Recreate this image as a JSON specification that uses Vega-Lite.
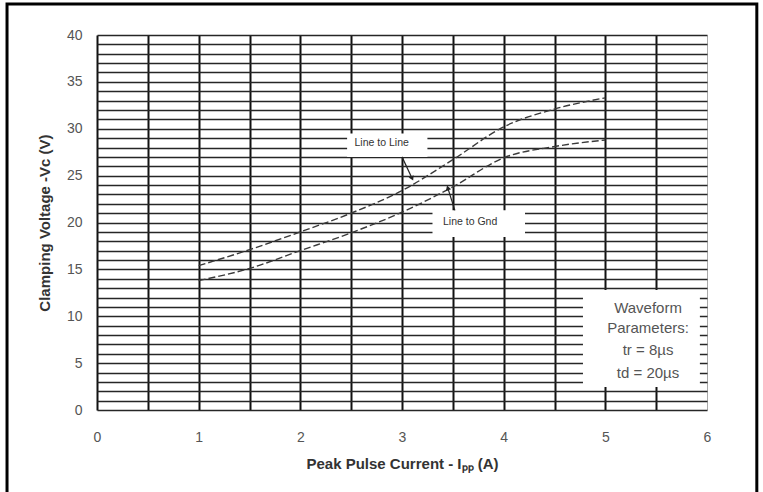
{
  "$schema": "https://vega.github.io/schema/vega-lite/v6.json",
  "width": 610,
  "height": 375,
  "autosize": {"type": "none"},
  "padding": {"left": 97, "top": 35, "right": 56, "bottom": 82},
  "background": "white",
  "config": {"view": {"stroke": null}, "font": "Liberation Sans"},
  "datasets": {
    "frame": [{"x": -0.885, "x2": 6.49, "y": -9, "y2": 43.3}],
    "curves": [
      {"series": "Line to Line", "x": 1, "y": 15.4},
      {"series": "Line to Line", "x": 1.5, "y": 17.1},
      {"series": "Line to Line", "x": 2, "y": 19.0},
      {"series": "Line to Line", "x": 2.5, "y": 21.0},
      {"series": "Line to Line", "x": 3, "y": 23.4},
      {"series": "Line to Line", "x": 3.5, "y": 26.7},
      {"series": "Line to Line", "x": 4, "y": 30.2},
      {"series": "Line to Line", "x": 4.5, "y": 32.1},
      {"series": "Line to Line", "x": 5, "y": 33.3},
      {"series": "Line to Gnd", "x": 1, "y": 13.8},
      {"series": "Line to Gnd", "x": 1.5, "y": 15.1},
      {"series": "Line to Gnd", "x": 2, "y": 17.0},
      {"series": "Line to Gnd", "x": 2.5, "y": 18.9},
      {"series": "Line to Gnd", "x": 3, "y": 21.1},
      {"series": "Line to Gnd", "x": 3.5, "y": 23.8},
      {"series": "Line to Gnd", "x": 4, "y": 26.9},
      {"series": "Line to Gnd", "x": 4.5, "y": 28.1},
      {"series": "Line to Gnd", "x": 5, "y": 28.8}
    ],
    "boxes": [
      {"name": "Line to Line", "x": 2.46, "x2": 3.25, "y": 27.0, "y2": 29.5},
      {"name": "Line to Gnd", "x": 3.30, "x2": 4.21, "y": 18.45, "y2": 21.3},
      {"name": "Waveform", "x": 4.78, "x2": 5.93, "y": 2.45, "y2": 12.8}
    ],
    "curveLabels": [
      {"text": "Line to Line", "x": 2.80, "y": 28.5},
      {"text": "Line to Gnd", "x": 3.67, "y": 20.05}
    ],
    "waveform": [
      {"text": "Waveform", "x": 5.42, "y": 10.88},
      {"text": "Parameters:", "x": 5.42, "y": 8.75},
      {"text": "tr = 8µs", "x": 5.42, "y": 6.4},
      {"text": "td = 20µs", "x": 5.42, "y": 3.95}
    ],
    "arrows": [
      {"name": "Line to Line", "x": 3.0, "y": 27.0, "x2": 3.10, "y2": 24.7},
      {"name": "Line to Gnd", "x": 3.52, "y": 21.3, "x2": 3.45, "y2": 23.7}
    ]
  },
  "encoding": {
    "x": {
      "field": "x",
      "type": "quantitative",
      "scale": {"domain": [0, 6], "nice": false, "zero": false},
      "title": "Peak Pulse Current - Iₚₚ (A)",
      "axis": {
        "values": [0, 0.5, 1, 1.5, 2, 2.5, 3, 3.5, 4, 4.5, 5, 5.5, 6],
        "format": "~g",
        "labelExpr": "datum.value % 1 === 0 ? datum.label : ''",
        "grid": true,
        "gridColor": {"condition": {"test": "datum.value === 6", "value": "#aaaaaa"}, "value": "#111111"},
        "gridWidth": {"condition": {"test": "datum.value === 6", "value": 1}, "value": 2},
        "domain": false,
        "ticks": false,
        "labelFontSize": 14,
        "labelColor": "#555555",
        "labelPadding": 20,
        "labelFlush": false,
        "titleFontSize": 15,
        "titleFontWeight": "bold",
        "titleColor": "#333333",
        "titlePadding": 12
      }
    },
    "y": {
      "field": "y",
      "type": "quantitative",
      "scale": {"domain": [0, 40], "nice": false},
      "title": "Clamping Voltage -Vc (V)",
      "axis": {
        "values": [0,1,2,3,4,5,6,7,8,9,10,11,12,13,14,15,16,17,18,19,20,21,22,23,24,25,26,27,28,29,30,31,32,33,34,35,36,37,38,39,40],
        "format": "~g",
        "labelExpr": "datum.value % 5 === 0 ? datum.label : ''",
        "grid": true,
        "gridColor": "#262626",
        "gridWidth": 1.4,
        "domain": false,
        "ticks": false,
        "labelFontSize": 14,
        "labelColor": "#555555",
        "labelPadding": 15,
        "labelFlush": false,
        "titleFontSize": 15,
        "titleFontWeight": "bold",
        "titleColor": "#333333",
        "titlePadding": 14
      }
    }
  },
  "layer": [
    {
      "data": {"name": "frame"},
      "mark": {"type": "rect", "fill": "transparent", "stroke": "#000000", "strokeWidth": 3, "clip": false},
      "encoding": {"x2": {"field": "x2"}, "y2": {"field": "y2"}}
    },
    {
      "data": {"name": "boxes"},
      "mark": {"type": "rect", "fill": "white", "stroke": null},
      "encoding": {"x2": {"field": "x2"}, "y2": {"field": "y2"}}
    },
    {
      "data": {"name": "curves"},
      "mark": {"type": "line", "color": "#3a3a3a", "strokeWidth": 1.4, "strokeDash": [7, 3], "interpolate": "monotone"},
      "encoding": {"detail": {"field": "series"}}
    },
    {
      "data": {"name": "arrows"},
      "mark": {"type": "rule", "color": "#222222", "strokeWidth": 1.2},
      "encoding": {"x2": {"field": "x2"}, "y2": {"field": "y2"}}
    },
    {
      "data": {"name": "arrows"},
      "transform": [{"filter": "datum.name === 'Line to Line'"}],
      "mark": {"type": "point", "shape": "triangle-up", "filled": true, "color": "#222222", "size": 30, "angle": 155, "opacity": 1},
      "encoding": {"x": {"field": "x2", "type": "quantitative"}, "y": {"field": "y2", "type": "quantitative"}}
    },
    {
      "data": {"name": "arrows"},
      "transform": [{"filter": "datum.name === 'Line to Gnd'"}],
      "mark": {"type": "point", "shape": "triangle-up", "filled": true, "color": "#222222", "size": 30, "angle": 342, "opacity": 1},
      "encoding": {"x": {"field": "x2", "type": "quantitative"}, "y": {"field": "y2", "type": "quantitative"}}
    },
    {
      "data": {"name": "curveLabels"},
      "mark": {"type": "text", "fontSize": 10.5, "color": "#333333", "font": "Liberation Sans"},
      "encoding": {"text": {"field": "text"}}
    },
    {
      "data": {"name": "waveform"},
      "mark": {"type": "text", "fontSize": 15, "color": "#555555", "font": "Liberation Sans"},
      "encoding": {"text": {"field": "text"}}
    }
  ]
}
